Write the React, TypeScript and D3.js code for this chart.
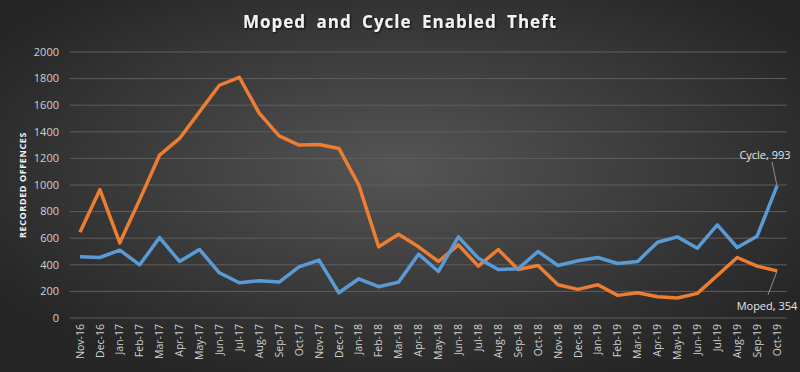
import React from "react";
import * as d3 from "d3";

// months shown on the x axis
const months = [
  "Nov-16", "Dec-16",
  "Jan-17", "Feb-17", "Mar-17", "Apr-17", "May-17", "Jun-17", "Jul-17", "Aug-17", "Sep-17", "Oct-17", "Nov-17", "Dec-17",
  "Jan-18", "Feb-18", "Mar-18", "Apr-18", "May-18", "Jun-18", "Jul-18", "Aug-18", "Sep-18", "Oct-18", "Nov-18", "Dec-18",
  "Jan-19", "Feb-19", "Mar-19", "Apr-19", "May-19", "Jun-19", "Jul-19", "Aug-19", "Sep-19", "Oct-19",
];

const moped = [
  645, 965,
  565, 890, 1225, 1350, 1550, 1750, 1810, 1540, 1370, 1300, 1305, 1275,
  1000, 535, 630, 535, 425, 550, 390, 515, 365, 395, 250, 215,
  250, 170, 190, 160, 150, 185, 320, 455, 390, 354,
];

const cycle = [
  460, 455,
  510, 400, 605, 425, 515, 340, 265, 280, 270, 385, 435, 190,
  295, 235, 270, 480, 350, 610, 450, 365, 370, 500, 395, 430,
  455, 410, 425, 570, 610, 525, 700, 530, 615, 993,
];

const yTicks = [0, 200, 400, 600, 800, 1000, 1200, 1400, 1600, 1800, 2000];

const W = 800, H = 372;
const left = 70, right = 787, top = 52, bottom = 318;

export default function App() {
  const x = d3.scaleBand<string>().domain(months).range([left, right]);
  const y = d3.scaleLinear().domain([0, 2000]).range([bottom, top]);
  const cx = (m: string) => (x(m) as number) + x.bandwidth() / 2;

  const line = d3.line<number>()
    .x((d, i) => cx(months[i]))
    .y(d => y(d));

  const last = months.length - 1;
  const lx = cx(months[last]);

  return (
    <svg width={W} height={H} style={{ position: "absolute", left: 0, top: 0 }}
      fontFamily="'Open Sans', 'Liberation Sans', sans-serif">
      <defs>
        <radialGradient id="bg" cx="50%" cy="45%" r="60%">
          <stop offset="0%" stopColor="#555555" />
          <stop offset="100%" stopColor="#262626" />
        </radialGradient>
        <filter id="shadow" x="-10%" y="-50%" width="120%" height="200%">
          <feDropShadow dx="1" dy="1" stdDeviation="0.8" floodColor="#000" floodOpacity="0.8" />
        </filter>
      </defs>
      <rect x={0} y={0} width={W} height={H} fill="url(#bg)" />

      <text x={400} y={28} textAnchor="middle" fill="#f2f2f2" fontSize={17} fontWeight="bold"
        letterSpacing={1} wordSpacing={5} filter="url(#shadow)">
        Moped and Cycle Enabled Theft
      </text>

      {yTicks.map(t => (
        <g key={t}>
          <line x1={left} x2={right} y1={y(t)} y2={y(t)} stroke="#5e5e5e" strokeWidth={1} />
          <text x={59} y={y(t)} dy="0.35em" textAnchor="end" fill="#d0d0d0" fontSize={11}>{t}</text>
        </g>
      ))}

      <text transform={`translate(26,${(top + bottom) / 2}) rotate(-90)`} textAnchor="middle"
        fill="#f2f2f2" fontSize={9} fontWeight="bold" letterSpacing={0.6}>
        RECORDED OFFENCES
      </text>

      {months.map(m => (
        <text key={m} transform={`translate(${cx(m)},${bottom + 6}) rotate(-90)`} dy="0.35em"
          textAnchor="end" fill="#d0d0d0" fontSize={10.5}>{m}</text>
      ))}

      <path d={line(moped) as string} fill="none" stroke="#ed7d31" strokeWidth={3.5} strokeLinejoin="round" />
      <path d={line(cycle) as string} fill="none" stroke="#5b9bd5" strokeWidth={3.5} strokeLinejoin="round" />

      <line x1={lx} y1={y(cycle[last])} x2={lx - 5} y2={y(cycle[last]) - 24} stroke="#a6a6a6" strokeWidth={0.8} />
      <text x={765} y={155} dy="0.35em" textAnchor="middle" fill="#e6e6e6" fontSize={11}>Cycle, {cycle[last]}</text>

      <line x1={lx} y1={y(moped[last])} x2={lx - 9} y2={y(moped[last]) + 24} stroke="#a6a6a6" strokeWidth={0.8} />
      <text x={767} y={306} dy="0.35em" textAnchor="middle" fill="#e6e6e6" fontSize={11}>Moped, {moped[last]}</text>
    </svg>
  );
}
